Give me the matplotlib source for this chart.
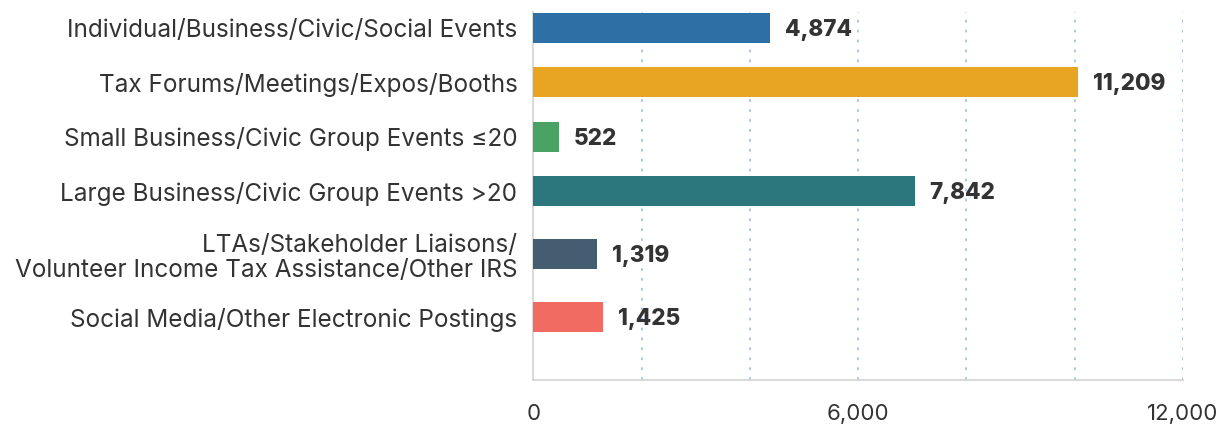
# outreach events by type - horizontal bar chart

import matplotlib.pyplot as plt
from matplotlib.ticker import FixedLocator, FixedFormatter

categories = [
    'Individual/Business/Civic/Social Events',
    'Tax Forums/Meetings/Expos/Booths',
    'Small Business/Civic Group Events \u226420',
    'Large Business/Civic Group Events >20',
    'LTAs/Stakeholder Liaisons/\nVolunteer Income Tax Assistance/Other IRS',
    'Social Media/Other Electronic Postings',
]
counts = [4874, 11209, 522, 7842, 1319, 1425]
colors = ['#2E6FA6', '#E8A521', '#4AA365', '#2C777E', '#455D71', '#F16B63']
tick_labels = ['0', '6,000', '12,000']

plt.rcParams['font.family'] = ['Inter', 'DejaVu Sans']

# rows with two-line labels get a bit more room
ypos = []
y = 0.0
for i, cat in enumerate(categories):
    if i > 0:
        extra = cat.count('\n') + categories[i - 1].count('\n')
        y += 1 + 0.16 * extra
    ypos.append(y)

fig = plt.figure(figsize=(12.23, 4.26), dpi=100)
ax = fig.add_axes([0.4361, 0.108, 0.5312, 0.8638])

ax.barh(ypos, counts, height=0.55, color=colors, zorder=3)
for yy, val in zip(ypos, counts):
    ax.annotate(f'{val:,}', (val, yy), xytext=(10.8, -1.5), textcoords='offset points',
                va='center', ha='left', fontsize=16.2, fontweight='heavy', color='#333333')

# the source axis runs a little past the last label, so scale it the same way
xmax = 13360
ax.set_xlim(0, xmax)
ax.set_ylim(ypos[-1] + 1.15, -0.29)

ax.xaxis.set_major_locator(FixedLocator([0, xmax / 2, xmax]))
ax.xaxis.set_major_formatter(FixedFormatter(tick_labels))
for k in range(1, 7):
    ax.axvline(xmax * k / 6, linestyle=(0, (1.5, 4)), color='#A3C3E2', linewidth=1.3, zorder=0)

ax.set_yticks(ypos)
ax.set_yticklabels(categories, fontsize=17.5, color='#333333', linespacing=1.1)
ax.tick_params(axis='y', length=0, pad=11.5)
ax.tick_params(axis='x', which='both', length=0, pad=17, labelsize=16, labelcolor='#333333')

for s in ['top', 'right']:
    ax.spines[s].set_visible(False)
for s in ['left', 'bottom']:
    ax.spines[s].set_color('#D3D3D3')
    ax.spines[s].set_linewidth(1.2)

fig.savefig('out.png', dpi=100)
